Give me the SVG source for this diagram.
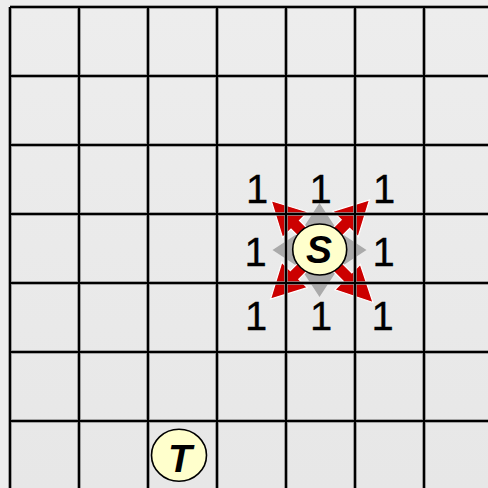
<svg xmlns="http://www.w3.org/2000/svg" width="488" height="488" viewBox="0 0 488 488">
<defs>
<linearGradient id="bg" x1="0" y1="0" x2="0" y2="1">
<stop offset="0" stop-color="#ededed"/>
<stop offset="1" stop-color="#e7e7e7"/>
</linearGradient>
<polygon id="gray" points="0,-47 19,-18 6,-18 6,0 -6,0 -6,-18 -19,-18"/>
</defs>
<style>
.grid-halo{stroke:#8c8c8c;stroke-width:3.6;fill:none}
.grid{stroke:#000;stroke-width:2;fill:none}
.garrow{fill:#aaaaaa}
.rarrow{fill:#cc0000;stroke:#ffffff;stroke-width:1.2;stroke-linejoin:miter}
.node{fill:#ffffcc;stroke:#000;stroke-width:1.6}
.nlabel{font-family:"Liberation Sans",Arial,sans-serif;font-size:39px;font-weight:bold;font-style:italic;text-anchor:middle;fill:#000}
.cost{font-family:"Liberation Sans",Arial,sans-serif;font-size:40px;text-anchor:middle;fill:#000;stroke:#000;stroke-width:0.3}
</style>
<rect x="0" y="0" width="488" height="488" fill="#ededed"/>
<rect x="10" y="7" width="478" height="481" fill="url(#bg)"/>
<g id="connectors">
<use href="#gray" class="garrow" transform="translate(319.5,250)"/>
<use href="#gray" class="garrow" transform="translate(319.5,250) rotate(90)"/>
<use href="#gray" class="garrow" transform="translate(319.5,250) rotate(180)"/>
<use href="#gray" class="garrow" transform="translate(319.5,250) rotate(270)"/>
<polygon class="rarrow" transform="translate(320,249.5) rotate(-45)" points="0,-69 18,-35 6,-35 6,0 -6,0 -6,-35 -18,-35"/>
<polygon class="rarrow" transform="translate(320,249.5) rotate(45)" points="0,-70 18,-36 6,-36 6,0 -6,0 -6,-36 -18,-36"/>
<polygon class="rarrow" transform="translate(320,249.5) rotate(-135)" points="0,-70 18,-36 6,-36 6,0 -6,0 -6,-36 -18,-36"/>
<polygon class="rarrow" transform="translate(320,249.5) rotate(135)" points="0,-75 18,-39 6,-39 6,0 -6,0 -6,-39 -18,-39"/>
</g>
<g id="grid">
<path class="grid-halo" d="M10,7V488M79,7V488M148,7V488M217,7V488M286,7V488M355,7V488M424,7V488M10,7H488M10,76H488M10,145H488M10,214H488M10,283H488M10,352H488M10,421H488"/>
<path class="grid" d="M10,7V488M79,7V488M148,7V488M217,7V488M286,7V488M355,7V488M424,7V488M10,7H488M10,76H488M10,145H488M10,214H488M10,283H488M10,352H488M10,421H488"/>
</g>
<g id="labels">
<text class="cost" x="257" y="203">1</text>
<text class="cost" x="320.5" y="203">1</text>
<text class="cost" x="384" y="203">1</text>
<text class="cost" x="255.5" y="266">1</text>
<text class="cost" x="383.5" y="266">1</text>
<text class="cost" x="256" y="330">1</text>
<text class="cost" x="321" y="330">1</text>
<text class="cost" x="382.5" y="330">1</text>
</g>
<g id="node-S">
<ellipse class="node" cx="319.7" cy="249.5" rx="27" ry="25.5"/>
<text class="nlabel" x="319" y="263">S</text>
</g>
<g id="node-T">
<ellipse class="node" cx="179" cy="455.3" rx="27.5" ry="26"/>
<text class="nlabel" x="180" y="471.5">T</text>
</g>
</svg>
